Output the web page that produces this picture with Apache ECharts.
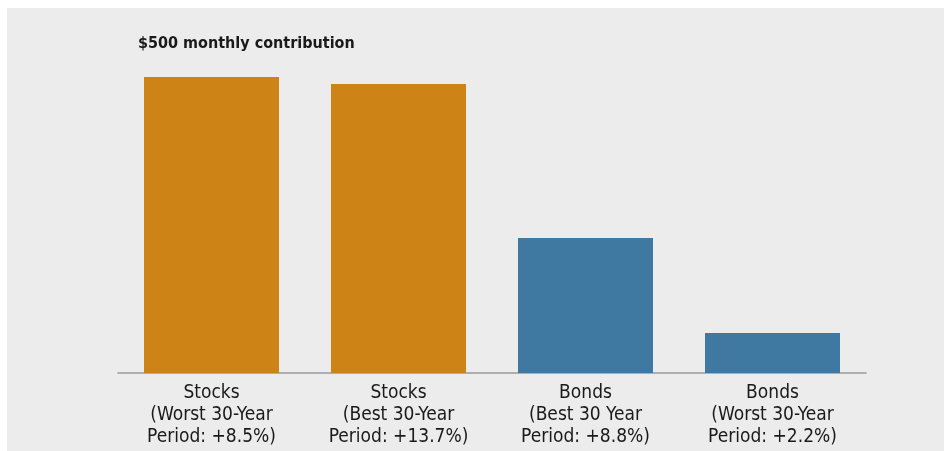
<!DOCTYPE html>
<html>
<head>
<meta charset="utf-8">
<script src="https://cdn.jsdelivr.net/npm/echarts@6/dist/echarts.min.js"></script>
<style>
html,body{margin:0;padding:0;background:#fff;}
#chart{position:absolute;left:7px;top:8px;width:937px;height:443px;background:#ececec;}
</style>
</head>
<body>
<div id="chart"></div>
<script>
var categories = [
  "Stocks\n(Worst 30-Year\nPeriod: +8.5%)",
  "Stocks\n(Best 30-Year\nPeriod: +13.7%)",
  "Bonds\n(Best 30 Year\nPeriod: +8.8%)",
  "Bonds\n(Worst 30-Year\nPeriod: +2.2%)"
];
var values = [296, 289, 135, 40];
var colors = ["#cd8316", "#cd8316", "#3f78a1", "#3f78a1"];
var titleText = "$500 monthly contribution";

var font = "'Liberation Sans Narrow', 'DejaVu Sans Condensed', sans-serif";
var chart = echarts.init(document.getElementById('chart'), null, {renderer: 'canvas'});
chart.setOption({
  backgroundColor: '#ececec',
  animation: false,
  title: {
    text: titleText,
    left: 126,
    top: 23,
    textStyle: {fontFamily: font, fontWeight: 'bold', fontSize: 16, color: '#1a1a1a'}
  },
  grid: {left: 111, right: 78, top: 69, bottom: 78},
  xAxis: {
    type: 'category',
    data: categories,
    axisLine: {lineStyle: {color: '#999', width: 1.5}},
    axisTick: {show: false},
    axisLabel: {fontFamily: font, fontSize: 19, color: '#1a1a1a', lineHeight: 22, margin: 9, interval: 0}
  },
  yAxis: {
    type: 'value',
    min: 0,
    max: 296,
    show: false,
    splitLine: {show: false}
  },
  series: [{
    type: 'bar',
    data: values.map(function(v, i){ return {value: v, itemStyle: {color: colors[i]}}; }),
    barWidth: 135
  }]
});
</script>
</body>
</html>
